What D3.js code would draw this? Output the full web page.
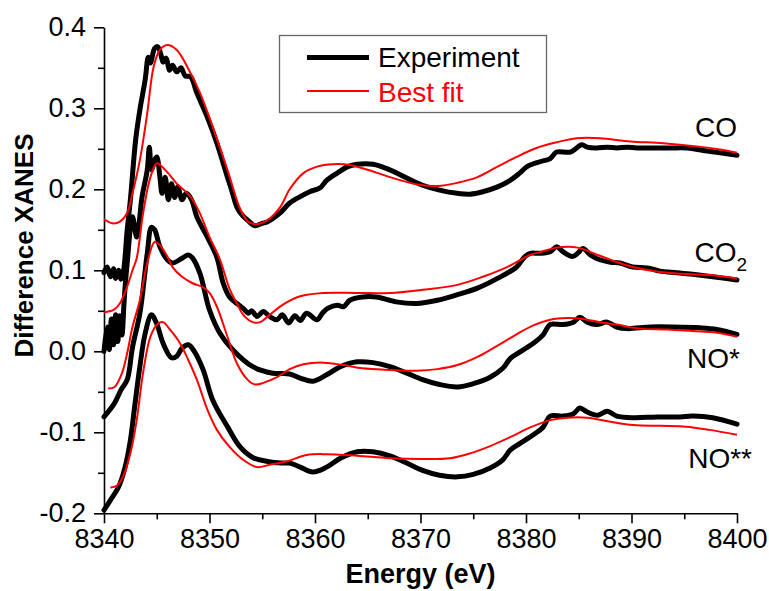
<!DOCTYPE html>
<html>
<head>
<meta charset="utf-8">
<script src="https://cdn.jsdelivr.net/npm/d3@7"></script>
<style>
  html, body { margin: 0; padding: 0; background: #fff; }
  svg { display: block; font-family: "Liberation Sans", Arial, sans-serif; }
</style>
</head>
<body>
<svg id="chart" width="769" height="591"></svg>
<script>
// ---------- DATA (energy eV, difference XANES) ----------
const xTicks = [8340, 8350, 8360, 8370, 8380, 8390, 8400];
const yTicks = [-0.2, -0.1, 0.0, 0.1, 0.2, 0.3, 0.4];
const seriesLabels = ["CO", "CO2", "NO*", "NO**"];
const legendLabels = ["Experiment", "Best fit"];

const coExp = [
  [8340,0.097],[8340.3,0.104],[8340.6,0.092],[8340.9,0.102],[8341.1,0.090],[8341.4,0.100],[8341.6,0.089],[8341.8,0.095],
  [8342.2,0.150],[8342.5,0.187],[8343.0,0.261],[8343.4,0.298],[8343.9,0.335],[8344.2,0.363],[8344.4,0.356],
  [8344.8,0.374],[8345.1,0.376],[8345.4,0.366],[8345.6,0.357],[8345.9,0.362],[8346.2,0.347],[8346.5,0.353],
  [8346.9,0.345],[8347.3,0.350],[8347.7,0.340],[8348.2,0.339],[8348.8,0.319],[8349.8,0.289],[8350.7,0.257],
  [8351.7,0.215],[8352.1,0.199],[8352.6,0.178],[8353.1,0.168],[8353.6,0.162],[8354.3,0.155],[8355.0,0.158],
  [8355.5,0.160],[8356.7,0.171],[8357.6,0.183],[8358.6,0.191],[8359.5,0.197],[8360.5,0.202],[8361.1,0.211],
  [8362.1,0.220],[8363.1,0.228],[8364.0,0.231],[8365.5,0.231],[8367.1,0.224],[8368.7,0.214],[8370.2,0.205],
  [8371.8,0.199],[8373.5,0.195],[8374.7,0.194],[8375.9,0.197],[8377.3,0.203],[8378.5,0.211],[8379.4,0.220],
  [8380.1,0.228],[8381.3,0.234],[8382.3,0.238],[8382.9,0.246],[8384.2,0.246],[8385.3,0.255],[8385.8,0.252],
  [8386.7,0.251],[8387.7,0.252],[8388.6,0.251],[8389.6,0.252],[8390.5,0.251],[8392.0,0.251],[8393.6,0.251],
  [8395.3,0.251],[8396.8,0.248],[8398.4,0.245],[8400,0.242]
];
const coFit = [
  [8340,0.163],[8340.8,0.158],[8341.5,0.160],[8342.2,0.171],[8342.7,0.195],[8343.4,0.236],[8344.1,0.294],
  [8344.7,0.351],[8345.3,0.372],[8346.0,0.378],[8346.9,0.372],[8347.9,0.351],[8349.1,0.319],[8350.3,0.277],
  [8351.7,0.224],[8352.9,0.176],[8353.6,0.161],[8354.3,0.157],[8355.5,0.162],[8356.7,0.178],
  [8357.6,0.200],[8358.9,0.220],[8360.2,0.228],[8361.7,0.231],[8363.3,0.230],[8365.5,0.222],[8367.1,0.215],
  [8369.7,0.206],[8371.6,0.204],[8373.5,0.208],[8375.4,0.215],[8377.3,0.228],[8379.1,0.240],[8381.0,0.251],
  [8382.9,0.258],[8384.8,0.263],[8387.0,0.263],[8389.9,0.259],[8393.0,0.257],[8396.2,0.253],[8398.4,0.249],[8400,0.245]
];
const co2Exp = [
  [8340,0.000],[8340.3,0.030],[8340.5,0.002],[8340.7,0.040],[8340.9,0.008],[8341.1,0.045],[8341.3,0.012],
  [8341.5,0.044],[8341.7,0.020],[8341.9,0.060],[8342.0,0.079],[8342.2,0.109],[8342.7,0.166],[8343.1,0.141],
  [8343.6,0.190],[8344.1,0.224],[8344.3,0.252],[8344.5,0.224],[8344.8,0.236],[8345.0,0.240],[8345.3,0.215],
  [8345.5,0.195],[8345.8,0.215],[8346.1,0.187],[8346.4,0.207],[8346.7,0.190],[8347.0,0.203],[8347.4,0.187],
  [8347.8,0.195],[8348.3,0.187],[8348.8,0.166],[8349.8,0.141],[8350.7,0.116],[8351.3,0.084],[8351.9,0.067],
  [8352.6,0.059],[8353.2,0.053],[8353.7,0.047],[8354.0,0.050],[8354.5,0.043],[8355.1,0.049],[8355.7,0.043],
  [8356.4,0.039],[8356.9,0.045],[8357.5,0.035],[8358.1,0.044],[8358.6,0.038],[8359.2,0.047],[8360.2,0.039],
  [8360.7,0.047],[8361.2,0.053],[8362.1,0.057],[8362.7,0.055],[8363.3,0.063],[8364.5,0.067],[8365.8,0.067],
  [8367.7,0.061],[8369.6,0.059],[8371.6,0.063],[8373.5,0.070],[8375.4,0.078],[8377.3,0.090],[8379.1,0.104],
  [8379.9,0.117],[8380.4,0.121],[8381.3,0.121],[8382.3,0.123],[8382.9,0.129],[8383.5,0.123],[8384.4,0.117],
  [8384.9,0.121],[8385.4,0.127],[8386.1,0.119],[8387.0,0.113],[8388.0,0.110],[8388.9,0.109],[8390.1,0.104],
  [8391.5,0.103],[8392.7,0.099],[8394.3,0.097],[8395.8,0.095],[8397.7,0.092],[8400,0.088]
];
const co2Fit = [
  [8340,0.048],[8340.9,0.051],[8341.5,0.059],[8342.2,0.080],[8342.7,0.100],[8343.1,0.115],[8343.7,0.170],
  [8344.4,0.215],[8345.0,0.232],[8345.8,0.224],[8346.9,0.207],[8348.2,0.191],[8349.1,0.170],[8350.0,0.141],
  [8351.0,0.113],[8351.9,0.077],[8352.6,0.059],[8353.2,0.045],[8354.1,0.036],[8354.8,0.036],[8355.7,0.045],
  [8357.0,0.058],[8358.6,0.068],[8360.8,0.072],[8364.0,0.072],[8367.1,0.072],[8370.2,0.076],[8373.5,0.082],
  [8375.9,0.092],[8378.2,0.104],[8380.4,0.119],[8381.5,0.123],[8382.9,0.128],[8384.9,0.128],[8386.4,0.121],
  [8388.0,0.113],[8390.1,0.104],[8392.7,0.098],[8395.8,0.095],[8397.7,0.094],[8400,0.090]
];
const noExp = [
  [8340,-0.081],[8341.0,-0.064],[8341.6,-0.048],[8342.2,-0.035],[8342.7,0.005],[8343.4,0.047],[8344.1,0.121],
  [8344.5,0.153],[8344.8,0.150],[8345.3,0.129],[8346.0,0.113],[8346.5,0.109],[8347.4,0.115],[8348.0,0.119],
  [8348.4,0.115],[8349.1,0.096],[8350.0,0.051],[8351.0,0.022],[8352.2,0.002],[8354.1,-0.019],[8356.0,-0.027],
  [8357.6,-0.028],[8358.6,-0.033],[8359.8,-0.037],[8361.1,-0.029],[8362.4,-0.019],[8364.0,-0.013],
  [8365.5,-0.014],[8367.1,-0.019],[8368.7,-0.027],[8370.2,-0.035],[8371.8,-0.041],[8373.5,-0.044],
  [8375.0,-0.040],[8376.6,-0.032],[8377.8,-0.021],[8378.5,-0.009],[8379.4,-0.001],[8380.7,0.010],
  [8381.6,0.020],[8382.3,0.033],[8383.5,0.033],[8384.5,0.036],[8385.1,0.042],[8385.8,0.036],[8386.7,0.033],
  [8387.7,0.036],[8388.6,0.030],[8389.6,0.028],[8391.8,0.030],[8393.9,0.030],[8396.5,0.029],[8398.1,0.027],[8400,0.021]
];
const noFit = [
  [8340.4,-0.046],[8341.0,-0.044],[8341.7,-0.027],[8342.2,-0.002],[8342.7,0.030],[8343.4,0.063],[8344.1,0.109],
  [8344.8,0.135],[8345.3,0.131],[8346.0,0.117],[8346.5,0.104],[8347.4,0.092],[8348.4,0.084],[8349.4,0.079],
  [8350.0,0.072],[8350.7,0.055],[8351.7,0.018],[8352.6,-0.015],[8353.6,-0.035],[8354.3,-0.041],[8355.1,-0.039],
  [8356.4,-0.032],[8357.6,-0.022],[8358.9,-0.016],[8360.8,-0.014],[8362.7,-0.017],[8364.5,-0.021],
  [8367.1,-0.023],[8369.7,-0.024],[8371.6,-0.022],[8373.5,-0.017],[8375.4,-0.007],[8377.3,0.007],
  [8379.1,0.021],[8380.7,0.032],[8382.3,0.039],[8383.9,0.041],[8385.4,0.040],[8387.0,0.036],[8388.6,0.033],
  [8390.8,0.028],[8393.4,0.027],[8395.8,0.025],[8398.1,0.023],[8400,0.018]
];
const no2Exp = [
  [8340,-0.196],[8340.6,-0.184],[8341.4,-0.167],[8342.0,-0.143],[8342.5,-0.110],[8342.9,-0.069],[8343.4,-0.019],
  [8343.9,0.022],[8344.5,0.045],[8345.0,0.034],[8345.6,0.010],[8346.4,-0.008],[8346.9,-0.006],[8347.4,0.004],
  [8348.0,0.008],[8348.6,-0.001],[8349.4,-0.023],[8350.3,-0.060],[8351.7,-0.093],[8352.9,-0.118],
  [8354.1,-0.131],[8355.5,-0.136],[8356.8,-0.138],[8357.6,-0.138],[8358.6,-0.143],[8359.8,-0.149],
  [8361.1,-0.143],[8362.4,-0.132],[8364.0,-0.124],[8365.5,-0.124],[8367.1,-0.129],[8368.7,-0.138],
  [8370.2,-0.147],[8371.8,-0.153],[8373.5,-0.155],[8375.0,-0.152],[8376.6,-0.144],[8377.8,-0.134],
  [8378.5,-0.122],[8379.4,-0.114],[8380.7,-0.103],[8381.6,-0.094],[8382.3,-0.080],[8383.5,-0.080],
  [8384.5,-0.077],[8385.1,-0.070],[8385.8,-0.075],[8386.8,-0.079],[8387.7,-0.074],[8388.6,-0.080],
  [8390.2,-0.082],[8392.4,-0.081],[8394.6,-0.081],[8395.8,-0.080],[8397.7,-0.082],[8400,-0.090]
];
const no2Fit = [
  [8340.6,-0.168],[8341.2,-0.166],[8341.8,-0.155],[8342.5,-0.126],[8343.1,-0.085],[8343.7,-0.027],
  [8344.4,0.018],[8345.1,0.034],[8345.6,0.036],[8346.3,0.026],[8347.2,0.010],[8348.0,-0.011],[8348.8,-0.035],
  [8349.8,-0.072],[8350.7,-0.097],[8351.9,-0.118],[8353.2,-0.134],[8354.5,-0.143],[8355.7,-0.140],
  [8357.3,-0.136],[8359.2,-0.128],[8361.1,-0.127],[8364.0,-0.129],[8367.1,-0.132],[8370.2,-0.133],
  [8372.8,-0.132],[8374.7,-0.126],[8376.6,-0.117],[8378.5,-0.106],[8380.4,-0.094],[8382.3,-0.085],
  [8383.9,-0.082],[8385.8,-0.082],[8388.0,-0.087],[8390.2,-0.091],[8392.7,-0.092],[8395.2,-0.093],
  [8397.4,-0.097],[8400,-0.103]
];

// ---------- CHART ----------
const svg = d3.select("#chart");
const x = d3.scaleLinear().domain([8340, 8400]).range([104, 737]);
const y = d3.scaleLinear().domain([-0.2, 0.4]).range([513.3, 27.3]);

const fmtY = v => (v < 0 ? "-" : "") + Math.abs(v).toFixed(1);

// minor ticks
const xMinor = d3.range(8345, 8400, 10);
const yMinor = d3.range(-0.15, 0.4, 0.1);

const gx = svg.append("g").attr("transform", `translate(0,${y(-0.2)})`)
  .call(d3.axisBottom(x).tickValues(xTicks).tickSize(10).tickSizeOuter(0).tickPadding(6).tickFormat(d3.format("d")));
const gxm = svg.append("g").attr("transform", `translate(0,${y(-0.2)})`)
  .call(d3.axisBottom(x).tickValues(xMinor).tickSize(6).tickFormat(""));
gxm.select(".domain").remove();

const gy = svg.append("g").attr("transform", `translate(${x(8340)},0)`)
  .call(d3.axisLeft(y).tickValues(yTicks).tickSize(10).tickSizeOuter(0).tickPadding(8).tickFormat(fmtY));
const gym = svg.append("g").attr("transform", `translate(${x(8340)},0)`)
  .call(d3.axisLeft(y).tickValues(yMinor).tickSize(6).tickFormat(""));
gym.select(".domain").remove();

[gx, gxm, gy, gym].forEach(g => {
  g.selectAll("line").attr("stroke", "#000").attr("stroke-width", 1.6);
  g.selectAll(".domain").attr("stroke", "#000").attr("stroke-width", 1.6);
  g.selectAll("text").attr("fill", "#000")
    .style("font-family", "'Liberation Sans', Arial, sans-serif").style("font-size", "27px");
});
gx.selectAll("text").attr("dy", "0.71em");

// curves
const line = d3.line().x(d => x(d[0])).y(d => y(d[1])).curve(d3.curveCatmullRom.alpha(0.5));
const plot = svg.append("g");
const expSets = [coExp, co2Exp, noExp, no2Exp];
const fitSets = [coFit, co2Fit, noFit, no2Fit];
expSets.forEach(s => plot.append("path").datum(s).attr("d", line)
  .attr("fill", "none").attr("stroke", "#000").attr("stroke-width", 5)
  .attr("stroke-linejoin", "round").attr("stroke-linecap", "round"));
fitSets.forEach(s => plot.append("path").datum(s).attr("d", line)
  .attr("fill", "none").attr("stroke", "#ff0000").attr("stroke-width", 2)
  .attr("stroke-linejoin", "round"));

// series labels
const labPos = [[737, 137], [735, 262], [740, 368], [752, 468]];
seriesLabels.forEach((t, i) => {
  const tx = svg.append("text").attr("x", labPos[i][0]).attr("y", labPos[i][1])
    .attr("text-anchor", "end").style("font-size", "28px").attr("fill", "#000");
  if (t === "CO2") {
    tx.append("tspan").text("CO");
    tx.append("tspan").text("2").attr("dy", 9).style("font-size", "19px");
    tx.attr("x", labPos[i][0] + 12);
  } else {
    tx.text(t);
  }
});

// axis titles
svg.append("text").attr("x", 420.5).attr("y", 583).attr("text-anchor", "middle")
  .style("font-size", "27px").style("font-weight", "bold").text("Energy (eV)");
svg.append("text").attr("transform", "translate(33,245.5) rotate(-90)").attr("text-anchor", "middle")
  .style("font-size", "26px").style("font-weight", "bold").text("Difference XANES");

// legend
const lg = svg.append("g");
lg.append("rect").attr("x", 279.5).attr("y", 35.5).attr("width", 267).attr("height", 77)
  .attr("fill", "#fff").attr("stroke", "#666").attr("stroke-width", 1.3);
lg.append("line").attr("x1", 307).attr("x2", 369).attr("y1", 57.5).attr("y2", 57.5)
  .attr("stroke", "#000").attr("stroke-width", 5);
lg.append("line").attr("x1", 307).attr("x2", 369).attr("y1", 91).attr("y2", 91)
  .attr("stroke", "#ff0000").attr("stroke-width", 2);
lg.append("text").attr("x", 378).attr("y", 67).style("font-size", "28px").attr("fill", "#000").text(legendLabels[0]);
lg.append("text").attr("x", 378).attr("y", 102).style("font-size", "28px").attr("fill", "#ff0000").text(legendLabels[1]);
</script>
</body>
</html>
